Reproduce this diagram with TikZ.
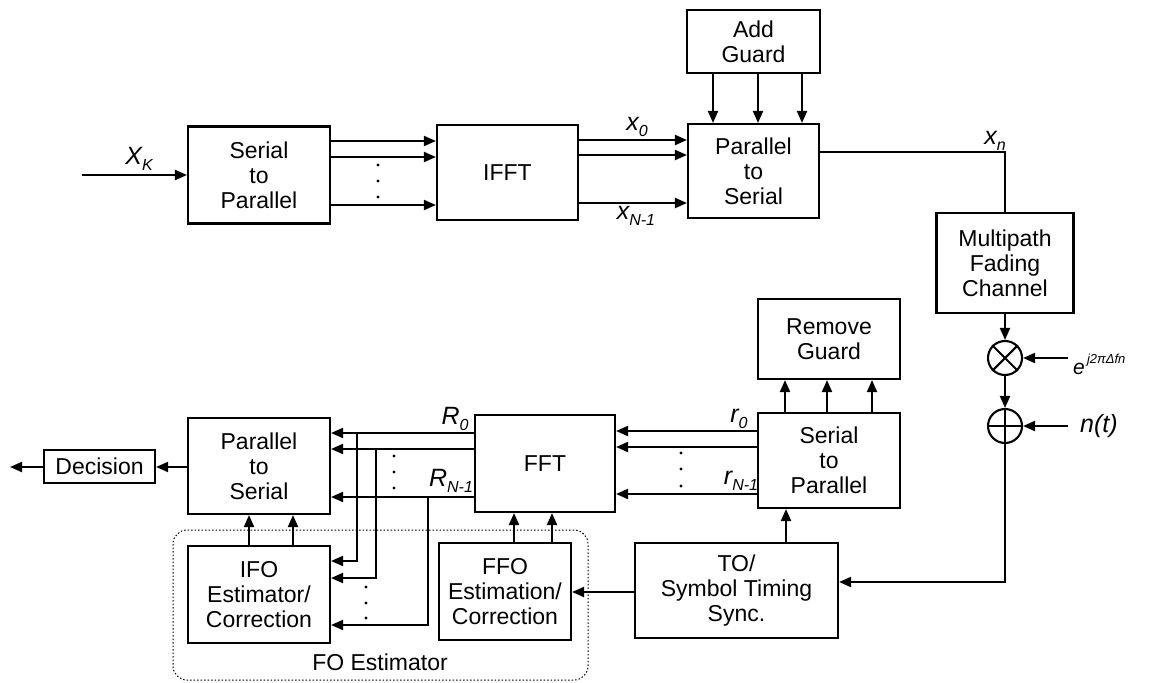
\documentclass[tikz,border=0pt]{standalone}
\usepackage{fontspec}
\setmainfont{Liberation Sans}
\usetikzlibrary{arrows.meta}
\newcommand\sig[2]{\textit{#1}\raisebox{-0.45ex}{\fontsize{16}{16}\selectfont\textit{#2}}}
\begin{document}
\begin{tikzpicture}[x=1pt,y=-1pt,
 blk/.style={draw, line width=2.1pt, inner sep=0pt, align=center, font=\fontsize{23}{25}\selectfont},
 arr/.style={line width=2.1pt, -{Triangle[length=12pt,width=10pt]}},
 ln/.style={line width=2.1pt},
 lab/.style={font=\fontsize{25}{26}\selectfont\itshape, inner sep=0pt},
 dotm/.style={circle, fill, inner sep=0pt, minimum size=3.2pt},
 sumc/.style={draw, circle, line width=2.1pt, minimum size=34pt, inner sep=0pt}]
\fill[white] (0,0) rectangle (1150,682);
\useasboundingbox (0,0) rectangle (1150,682);
% top chain
\node[blk, minimum width=142pt, minimum height=97pt] (sp1) at (259,175) {Serial\\to\\Parallel};
\node[blk, minimum width=141pt, minimum height=95pt] (ifft) at (507.5,172.5) {IFFT};
\node[blk, minimum width=133pt, minimum height=63pt] (addg) at (753.5,41.5) {Add\\Guard};
\node[blk, minimum width=131pt, minimum height=94pt] (ps1) at (753.5,171) {Parallel\\to\\Serial};
\node[blk, minimum width=137pt, minimum height=100pt] (mp) at (1005,263) {Multipath\\Fading\\Channel};
\node[sumc] (mult) at (1005,358) {};
\draw[line width=2.1pt] (mult.north west) -- (mult.south east) (mult.north east) -- (mult.south west);
\node[sumc] (plus) at (1005,426) {};
\draw[line width=2.1pt] (plus.north) -- (plus.south) (plus.west) -- (plus.east);
% bottom chain
\node[blk, minimum width=142pt, minimum height=80pt] (remg) at (829,339) {Remove\\Guard};
\node[blk, minimum width=142pt, minimum height=95pt] (sp2) at (829,460.5) {Serial\\to\\Parallel};
\node[blk, minimum width=140pt, minimum height=97pt] (fft) at (545,463.5) {FFT};
\node[blk, minimum width=142pt, minimum height=96pt] (ps2) at (259,466) {Parallel\\to\\Serial};
\node[blk, minimum width=111pt, minimum height=33pt] (dec) at (99.5,466.5) {Decision};
\node[blk, minimum width=142pt, minimum height=97pt] (ifo) at (259,594.5) {IFO\\Estimator/\\Correction};
\node[blk, minimum width=132pt, minimum height=97pt] (ffo) at (505,591.5) {FFO\\Estimation/\\Correction};
\node[blk, minimum width=203pt, minimum height=95pt] (to) at (736.5,590.5) {TO/\\Symbol Timing\\Sync.};
% FO estimator group
\draw[line width=1pt, dash pattern=on 1.5pt off 2pt, rounded corners=14pt] (173,530) rectangle (588,680);
\node[inner sep=0pt, font=\fontsize{23}{25}\selectfont] (foe) at (380,662) {FO Estimator};
% coordinates
\coordinate (in) at (82,175);
\coordinate (outd) at (10,467);
\coordinate (ein) at (1068,358);
\coordinate (nin) at (1068,426);
% top arrows
\draw[arr] (in) -- (sp1.west |- in);
\foreach \y in {141,157,205} \draw[arr] (sp1.east |- 0,\y) -- (ifft.west |- 0,\y);
\foreach \y in {140,155,203} \draw[arr] (ifft.east |- 0,\y) -- (ps1.west |- 0,\y);
\foreach \x in {713,758,802} \draw[arr] (addg.south -| \x,0) -- (ps1.north -| \x,0);
\draw[ln] (ps1.east |- 0,152) -| (mp.north);
\draw[arr] (mp.south) -- (mult.north);
\draw[arr] (mult.south) -- (plus.north);
\draw[arr] (ein) -- (mult.east);
\draw[arr] (nin) -- (plus.east);
\draw[arr] (plus.south) |- (to.east |- 0,582);
% bottom arrows
\foreach \x in {785,827,872} \draw[arr] (sp2.north -| \x,0) -- (remg.south -| \x,0);
\foreach \y in {431,447,494} \draw[arr] (sp2.west |- 0,\y) -- (fft.east |- 0,\y);
\foreach \y in {433,449,497} \draw[arr] (fft.west |- 0,\y) -- (ps2.east |- 0,\y);
\draw[arr] (357,433) |- (ifo.east |- 0,561);
\draw[arr] (376,449) |- (ifo.east |- 0,578);
\draw[arr] (428,497) |- (ifo.east |- 0,625);
\foreach \x in {249,293} \draw[arr] (ifo.north -| \x,0) -- (ps2.south -| \x,0);
\foreach \x in {514,552} \draw[arr] (ffo.north -| \x,0) -- (fft.south -| \x,0);
\draw[arr] (to.west |- 0,592) -- (ffo.east |- 0,592);
\draw[arr] (to.north -| 786,0) -- (sp2.south -| 786,0);
\draw[arr] (ps2.west |- 0,467) -- (dec.east |- 0,467);
\draw[arr] (dec.west |- outd) -- (outd);
% dots
\foreach \y in {165,181,197} \node[dotm] at (378,\y) {};
\foreach \y in {453,469,486} \node[dotm] at (681,\y) {};
\foreach \y in {456,472,488} \node[dotm] at (394,\y) {};
\foreach \y in {587,603,618} \node[dotm] at (366,\y) {};
% labels
\node[lab] (lxk) at (139,159) {\sig{X}{K}};
\node[lab] (lx0) at (637,127) {\sig{x}{0}};
\node[lab] (lxn1) at (636,216) {\sig{x}{N-1}};
\node[lab] (lxn) at (995,141) {\sig{x}{n}};
\node[lab] (lr0) at (455,419) {\sig{R}{0}};
\node[lab] (lrn1) at (451,481) {\sig{R}{N-1}};
\node[lab] (lsr0) at (739,419) {\sig{r}{0}};
\node[lab] (lsrn1) at (741,481) {\sig{r}{N-1}};
\node[lab, anchor=west, font=\fontsize{21}{22}\selectfont\itshape] (le) at (1073,364) {e\raisebox{1.0ex}{\fontsize{13}{13}\selectfont\,j2πΔfn}};
\node[lab, anchor=west] (ln) at (1080,426) {n(t)};
\end{tikzpicture}
\end{document}
